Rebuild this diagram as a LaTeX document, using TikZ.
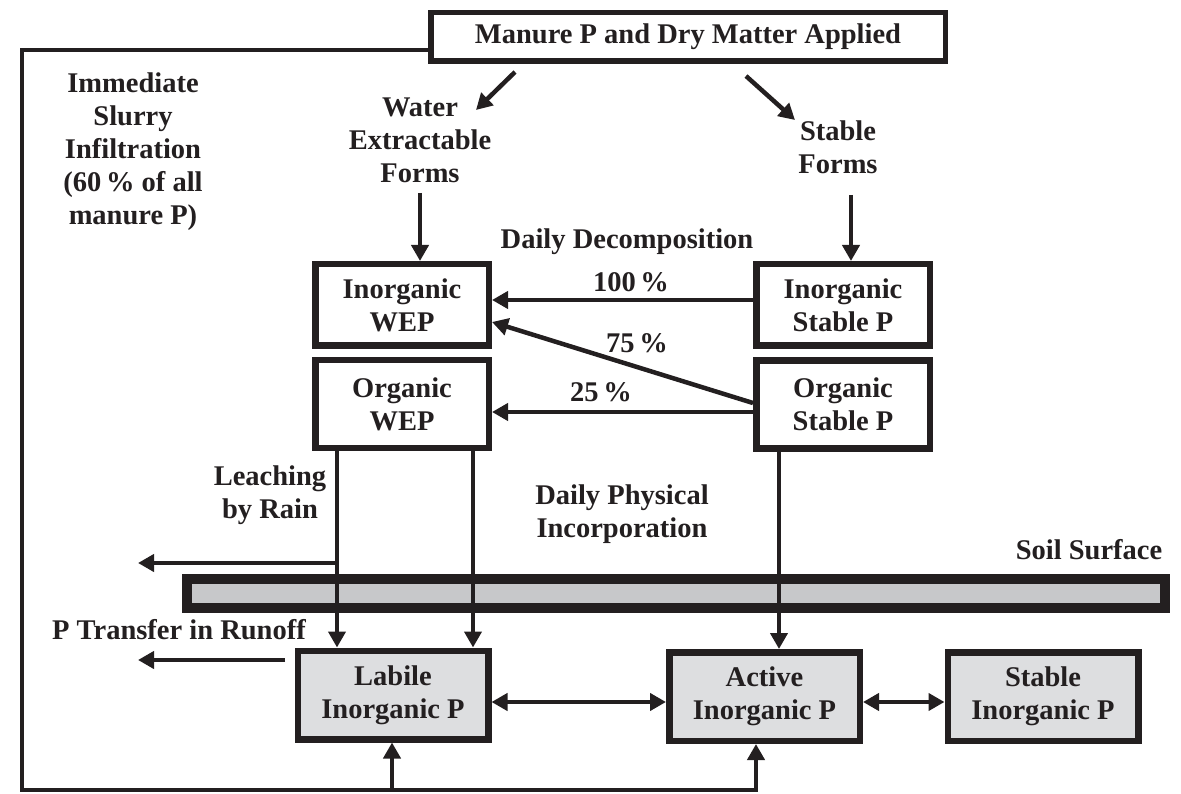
\documentclass[tikz,border=0pt]{standalone}
\usepackage{fontspec}
\setmainfont{Liberation Serif}
\usetikzlibrary{arrows.meta}
\definecolor{inkc}{HTML}{231F20}
\definecolor{soilfill}{HTML}{C7C8CA}
\definecolor{poolfill}{HTML}{DDDEE0}
\newcommand\diagfont{\fontsize{28.5}{33}\selectfont\bfseries}
\begin{document}
\begin{tikzpicture}[x=1pt,y=-1pt,
  lbl/.style={align=center, font=\diagfont, text=inkc, inner sep=0pt},
  box/.style={lbl, draw=inkc, line width=6.5pt, minimum width=173.5pt, minimum height=81.5pt},
  pool/.style={box, fill=poolfill, minimum width=190.5pt, minimum height=88.5pt},
  tip/.style={Triangle[length=16pt,width=17pt]},
  flow/.style={draw=inkc, line width=4.5pt, line join=miter, -{Triangle[length=16pt,width=17pt]}},
  twoway/.style={draw=inkc, line width=4.5pt, {Triangle[length=16pt,width=17pt]}-{Triangle[length=16pt,width=17pt]}},
]
\useasboundingbox (0,0) rectangle (1181,794);

% source box
\node[lbl, draw=inkc, line width=5.5pt, minimum width=514.5pt, minimum height=48.5pt] (top) at (688,37) {Manure P and Dry Matter Applied};

% side labels
\node[lbl] (infil) at (133,152) {Immediate\\Slurry\\Infiltration\\(60\,\% of all\\manure P)};
\node[lbl] (wef) at (420,140) {Water\\Extractable\\Forms};
\node[lbl] (sf) at (838,147) {Stable\\Forms};
\node[lbl] (decomp) at (627,242) {Daily Decomposition};

% surface pools
\node[box] (inwep) at (402,305) {Inorganic\\WEP};
\node[box, minimum height=87.5pt] (orwep) at (402,404) {Organic\\WEP};
\node[box] (instab) at (843,305) {Inorganic\\Stable P};
\node[box, minimum height=87.5pt] (orstab) at (843,404.5) {Organic\\Stable P};

% soil pools
\node[pool] (labile) at (393,695) {Labile\\Inorganic P};
\node[pool] (active) at (764.5,696.5) {Active\\Inorganic P};
\node[pool] (stablei) at (1043,696.5) {Stable\\Inorganic P};

% soil surface band
\draw[draw=inkc, line width=10pt, fill=soilfill] (187,579) rectangle (1165,608);
\node[lbl] (soil) at (1089,550) {Soil Surface};

% process labels
\node[lbl] (leach) at (270,495) {Leaching\\by Rain};
\node[lbl] (incorp) at (622,514) {Daily Physical\\Incorporation};
\node[lbl, anchor=west] (runoff) at (52,630) {P Transfer in Runoff};

% helper points
\coordinate (wefa) at (515,72);
\coordinate (wefb) at (476,110);
\coordinate (sfa) at (746,76);
\coordinate (sfb) at (795,120);
\coordinate (lx) at (337,0);
\coordinate (rx) at (473,0);
\coordinate (sx) at (779,0);
\coordinate (leachj) at (337,563);
\coordinate (leachend) at (138,563);
\coordinate (runa) at (285,660);
\coordinate (runb) at (138,660);
\coordinate (c1) at (22,50);
\coordinate (c2) at (22,790);
\coordinate (c3) at (756,790);
\coordinate (lab2) at (392,790);

% split of applied manure
\draw[flow] (wefa) -- (wefb);
\draw[flow] (sfa) -- (sfb);
\draw[flow] (wef.south |- 0,193) -- (inwep.north -| wef.south);
\draw[flow] (851,195) -- (instab.north -| 851,0);

% daily decomposition
\draw[flow] (instab.west |- 0,300) -- (inwep.east |- 0,300);
\draw[flow] (orstab.west |- 0,403) -- (inwep.east |- 0,322);
\draw[flow] (orstab.west |- 0,412) -- (orwep.east |- 0,412);
\node[lbl] (p100) at (631,282) {100\,\%};
\node[lbl] (p75) at (637,343) {75\,\%};
\node[lbl] (p25) at (601,392) {25\,\%};

% leaching and incorporation
\draw[flow] (orwep.south -| lx) -- (labile.north -| lx);
\draw[flow] (orwep.south -| rx) -- (labile.north -| rx);
\draw[flow] (orstab.south -| sx) -- (active.north -| sx);
\draw[flow] (leachj) -- (leachend);
\draw[flow] (runa) -- (runb);

% exchanges between soil pools
\draw[twoway] (labile.east |- 0,702) -- (active.west |- 0,702);
\draw[twoway] (active.east |- 0,702) -- (stablei.west |- 0,702);

% immediate infiltration loop
\draw[flow] (top.west |- c1) -- (c1) -- (c2) -- (c3) -- (active.south -| c3);
\draw[flow] (lab2) -- (labile.south -| lab2);
\end{tikzpicture}
\end{document}
